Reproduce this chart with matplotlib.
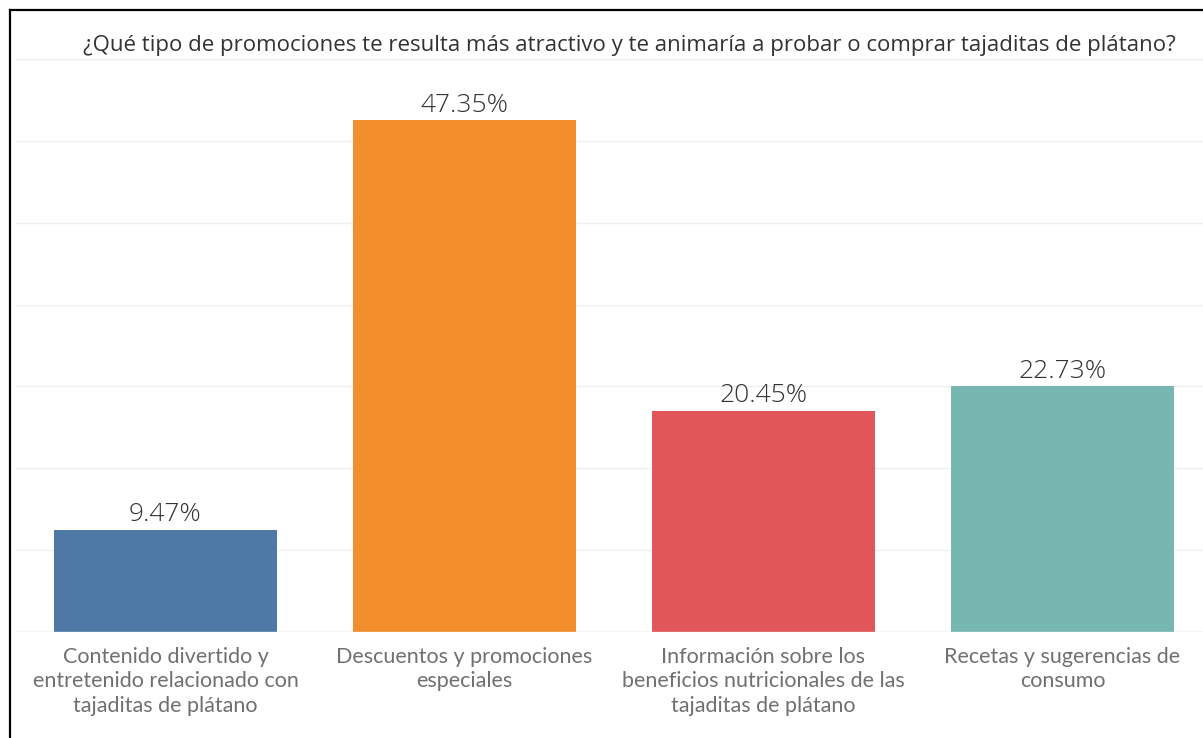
import matplotlib
matplotlib.use("Agg")
import matplotlib.pyplot as plt
from matplotlib.lines import Line2D

# respuestas por categoría (total 264)
categorias = [
    "Contenido divertido y\nentretenido relacionado con\ntajaditas de plátano",
    "Descuentos y promociones\nespeciales",
    "Información sobre los\nbeneficios nutricionales de las\ntajaditas de plátano",
    "Recetas y sugerencias de\nconsumo",
]
conteos = [25, 125, 54, 60]
colores = ["#4e79a7", "#f28e2b", "#e15759", "#76b7b2"]
titulo = "¿Qué tipo de promociones te resulta más atractivo y te animaría a probar o comprar tajaditas de plátano?"

total = sum(conteos)
etiquetas = [f"{c / total * 100:.2f}%" for c in conteos]

fig = plt.figure(figsize=(12.03, 7.38), dpi=100)
ax = fig.add_axes([16 / 1203, 106 / 738, 1 - 16 / 1203, (632 - 59) / 738])

x = list(range(len(categorias)))
ax.bar(x, conteos, width=0.746, color=colores, zorder=2)

# etiquetas de valor sobre cada barra
for xi, c, et in zip(x, conteos, etiquetas):
    ax.annotate(et, (xi, c), xytext=(0, 2), textcoords="offset points",
                ha="center", va="bottom", fontsize=19, color="#333333",
                family="Open Sans", fontweight="light")

ax.set_xlim(-0.5, 3.47)
ax.set_ylim(0, 140)
ax.set_yticks(range(0, 141, 20))
ax.yaxis.grid(True, color="#efefef", linewidth=1, zorder=0)
ax.tick_params(left=False, labelleft=False, bottom=False)
for s in ax.spines.values():
    s.set_visible(False)
ax.axhline(0, color="#e0e0e0", linewidth=1, zorder=3)

ax.set_xticks(x)
ax.set_xticklabels(categorias, fontsize=15.5, color="#707070", family="Lato",
                   linespacing=1.3)
ax.tick_params(axis="x", pad=7)

fig.text(629 / 1203, (738 - 45) / 738, titulo, ha="center", va="center",
         fontsize=16, color="#333333", family="Open Sans")

# marco superior e izquierdo
fig.add_artist(Line2D([10 / 1203, 10 / 1203], [0, 1 - 10 / 738],
                      color="black", linewidth=1.6, transform=fig.transFigure))
fig.add_artist(Line2D([10 / 1203, 1], [1 - 10 / 738, 1 - 10 / 738],
                      color="black", linewidth=1.6, transform=fig.transFigure))

fig.savefig("out.png", dpi=100, facecolor="white")
